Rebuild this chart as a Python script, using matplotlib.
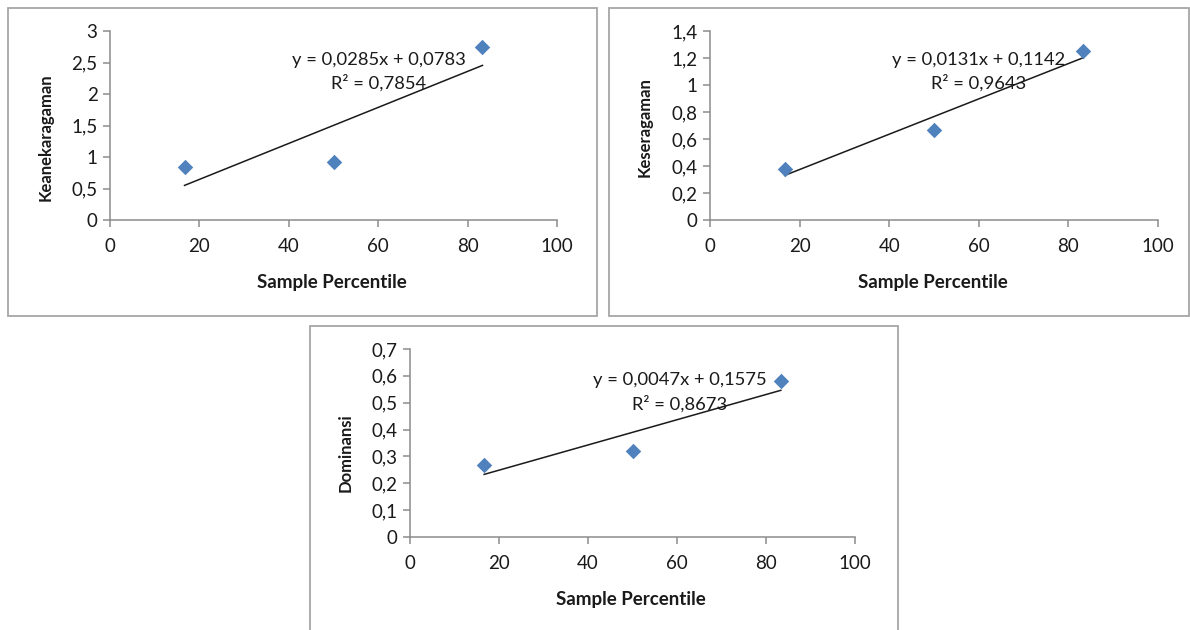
import matplotlib.pyplot as plt
import numpy as np
from matplotlib.patches import Rectangle
from matplotlib.ticker import FuncFormatter, MultipleLocator

# Dati
percentile = [16.67, 50.0, 83.33]
keanekaragaman = [0.84, 0.92, 2.745]
keseragaman = [0.38, 0.667, 1.252]
dominansi = [0.268, 0.32, 0.581]

x_ticks = [0, 20, 40, 60, 80, 100]
eq_labels = ["y = 0,0285x + 0,0783", "y = 0,0131x + 0,1142", "y = 0,0047x + 0,1575"]
r2_labels = ["R² = 0,7854", "R² = 0,9643", "R² = 0,8673"]

plt.rcParams['font.family'] = ['Lato', 'DejaVu Sans']

W, H = 1190, 630
fig = plt.figure(figsize=(W / 100, H / 100), dpi=100)
fig.patch.set_facecolor('white')


def px_rect(x0, y0, x1, y1):
    # converte pixel (origine in alto) in coordinate della figura
    return [x0 / W, 1 - y1 / H, (x1 - x0) / W, (y1 - y0) / H]


def comma(v, pos):
    return ('%g' % v).replace('.', ',')


def draw_panel(rect, box, y, ylabel, ymax, ystep, eq, r2, eq_pos, ylab_y):
    # cornice grigia del pannello
    bx = px_rect(*box)
    fig.add_artist(Rectangle((bx[0], bx[1]), bx[2], bx[3], transform=fig.transFigure,
                             fill=False, edgecolor='#a6a6a6', lw=1.3))

    ax = fig.add_axes(px_rect(*rect))
    ax.scatter(percentile, y, marker='D', s=62, color='#4F81BD', zorder=3, linewidths=0)

    # linea di tendenza lineare
    m, q = np.polyfit(percentile, y, 1)
    xs = np.array([percentile[0], percentile[-1]])
    ax.plot(xs, m * xs + q, color='#1a1a1a', lw=1.1, zorder=2)

    ax.set_xlim(0, 100)
    ax.set_ylim(0, ymax)
    ax.set_xticks(x_ticks)
    ax.yaxis.set_major_locator(MultipleLocator(ystep))
    ax.yaxis.set_major_formatter(FuncFormatter(comma))

    for s in ['top', 'right']:
        ax.spines[s].set_visible(False)
    for s in ['left', 'bottom']:
        ax.spines[s].set_color('#8c8c8c')
        ax.spines[s].set_linewidth(1.1)
    ax.tick_params(axis='both', direction='out', length=5, width=1.1, color='#8c8c8c',
                   labelsize=13.5, labelcolor='#1a1a1a')
    ax.tick_params(axis='x', pad=8)
    ax.tick_params(axis='y', pad=4)

    ax.set_xlabel('Sample Percentile', fontsize=13.5, fontweight='bold', color='#1a1a1a')
    ax.xaxis.set_label_coords(0.497, -0.285)
    ax.set_ylabel(ylabel, fontsize=12, fontweight='bold', color='#1a1a1a')
    ax.yaxis.set_label_coords(-0.127, ylab_y)

    # equazione della retta e R², centrate una sopra l'altra
    ax.text(eq_pos[0], eq_pos[1], eq, transform=ax.transAxes, ha='center', va='center',
            fontsize=13.2, color='#1a1a1a')
    ax.text(eq_pos[0], eq_pos[2], r2, transform=ax.transAxes, ha='center',
            va='center', fontsize=13.2, color='#1a1a1a')
    ax.patch.set_alpha(0)
    return ax


draw_panel((110, 31, 557, 220), (8, 8, 597, 316), keanekaragaman, 'Keanekaragaman',
           3, 0.5, eq_labels[0], r2_labels[0], (0.601, 0.847, 0.725), 0.44)
draw_panel((710, 31, 1158, 220), (609, 8, 1189, 316), keseragaman, 'Keseragaman',
           1.4, 0.2, eq_labels[1], r2_labels[1], (0.600, 0.847, 0.725), 0.49)
draw_panel((410, 349, 855, 537), (310, 326, 898, 640), dominansi, 'Dominansi',
           0.7, 0.1, eq_labels[2], r2_labels[2], (0.607, 0.835, 0.707), 0.45)

plt.savefig('out.png', dpi=100)
plt.close()
